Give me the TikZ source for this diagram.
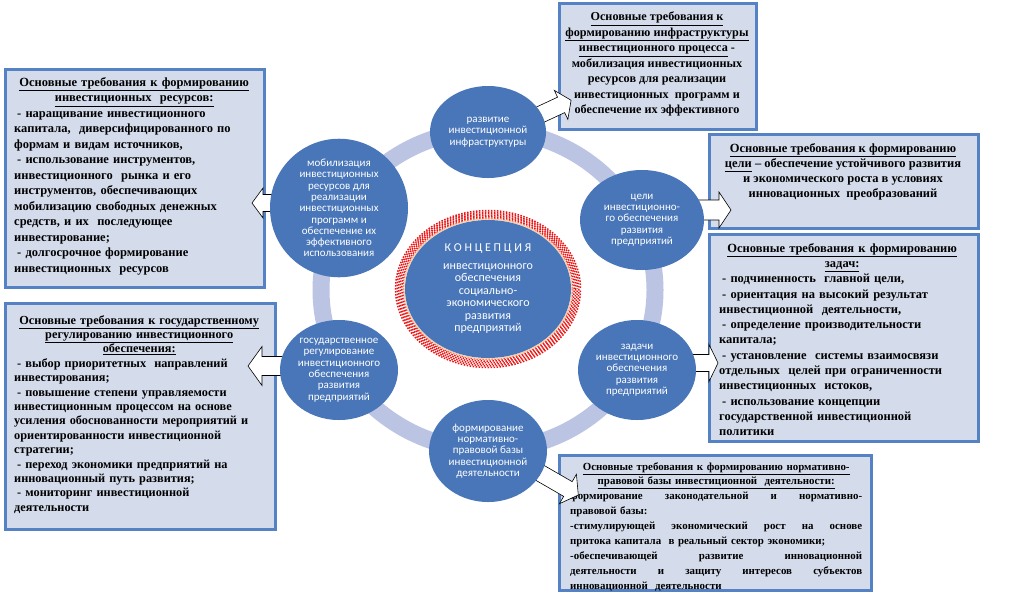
\documentclass[tikz,border=0pt]{standalone}
\usepackage{fontspec}
\setmainfont{Liberation Serif}
\newfontfamily\calib{Carlito}
\usetikzlibrary{shapes.geometric}
\definecolor{boxfill}{RGB}{212,220,236}
\definecolor{boxline}{RGB}{84,130,196}
\definecolor{circfill}{RGB}{72,118,184}
\definecolor{ringcol}{RGB}{188,196,228}
\definecolor{peach}{RGB}{250,205,165}
\definecolor{dotred}{RGB}{235,20,20}
\tikzset{
 reqbox/.style={draw=boxline, line width=2.5pt, fill=boxfill, anchor=north west, inner sep=0pt},
 circ/.style={ellipse, fill=circfill, inner sep=0pt, text=white, font=\calib\fontsize{11}{11.3}\selectfont, align=center},
 blockarrow/.style={draw=black, fill=white, line width=0.6pt, line join=miter},
 boxtxt/.style={inner sep=0pt, font=\bfseries\fontsize{12.5}{15.5}\selectfont},
 reddots/.style={dotred, line width=1.5pt, dash pattern=on 1.5pt off 1.5pt},
}
\newcommand\blockarr[8]{%
 \coordinate (#1) at (#2,#3);
 \draw[blockarrow, shift={(#1)}, rotate=#4] (0,{#6/2}) -- ({#5-#8},{#6/2}) -- ({#5-#8},{#7/2}) -- (#5,0) -- ({#5-#8},{-#7/2}) -- ({#5-#8},{-#6/2}) -- (0,{-#6/2}) -- cycle;}
\newcommand\jline[1]{{\spaceskip=0pt\xspaceskip=0pt\makebox[292pt][s]{#1}}}
\begin{document}
\begin{tikzpicture}[x=1pt,y=-1pt]
\useasboundingbox (0,0) rectangle (1024,595);
% boxes
\node[reqbox, minimum width=259pt, minimum height=218pt] (b1) at (4,68) {};
\node[reqbox, minimum width=197pt, minimum height=126pt] (b2) at (558,2) {};
\node[reqbox, minimum width=269pt, minimum height=94pt] (b3) at (708,133) {};
\node[reqbox, minimum width=269pt, minimum height=207pt] (b4) at (708,233) {};
\node[reqbox, minimum width=270pt, minimum height=226pt] (b5) at (4,302) {};
\node[reqbox, minimum width=312pt, minimum height=135pt] (b6) at (558,454) {};
% box texts
\node[boxtxt, anchor=north west, text width=240pt, align=left] (t1) at (14,77) {%
{\centering\underline{Основные требования к формированию}\\
\underline{инвестиционных\ \ ресурсов:}\par}
\hspace*{3pt}- наращивание инвестиционного\\
капитала,\ \ диверсифицированного по\\
формам и видам источников,\\
\hspace*{3pt}- использование инструментов,\\
инвестиционного\ \ рынка и его\\
инструментов, обеспечивающих\\
мобилизацию свободных денежных\\
средств, и их\ \ последующее\\
инвестирование;\\
\hspace*{3pt}- долгосрочное формирование\\
инвестиционных\ \ ресурсов};
\node[boxtxt, anchor=north, align=center, font=\bfseries\fontsize{12.2}{15.5}\selectfont] (t2) at (657,12) {%
\underline{Основные требования к}\\
\underline{формированию инфраструктуры}\\
\underline{инвестиционного процесса} -\\
мобилизация инвестиционных\\
ресурсов для реализации\\
инвестиционных\ \ программ и\\
обеспечение их эффективного};
\node[boxtxt, anchor=north, align=center, font=\bfseries\fontsize{12.5}{15}\selectfont] (t3) at (843,143) {%
\underline{Основные требования к формированию}\\
\underline{цели} – обеспечение устойчивого развития\\
и экономического роста в условиях\\
инновационных\ \ преобразований};
\node[boxtxt, anchor=north west, text width=246pt, align=left, font=\bfseries\fontsize{12.5}{15.3}\selectfont] (t4) at (719,243) {%
{\centering\underline{Основные требования к формированию}\\
\underline{задач:}\par}
\hspace*{3pt}- подчиненность\ \ главной цели,\\
\hspace*{3pt}- ориентация на высокий результат\\
инвестиционной\ \ деятельности,\\
\hspace*{3pt}- определение производительности\\
капитала;\\
\hspace*{3pt}- установление\ \ системы взаимосвязи\\
отдельных\ \ целей при ограниченности\\
инвестиционных\ \ истоков,\\
\hspace*{3pt}- использование концепции\\
государственной инвестиционной\\
политики};
\node[boxtxt, anchor=north west, text width=250pt, align=left, font=\bfseries\fontsize{12.3}{14.4}\selectfont] (t5) at (14,315) {%
{\centering\underline{Основные требования к государственному}\\
\underline{регулированию инвестиционного}\\
\underline{обеспечения:}\par}
\hspace*{3pt}- выбор приоритетных\ \ направлений\\
инвестирования;\\
\hspace*{3pt}- повышение степени управляемости\\
инвестиционным процессом на основе\\
усиления обоснованности мероприятий и\\
ориентированности инвестиционной\\
стратегии;\\
\hspace*{3pt}- переход экономики предприятий на\\
инновационный путь развития;\\
\hspace*{3pt}- мониторинг инвестиционной\\
деятельности};
\node[boxtxt, anchor=north west, text width=292pt, align=left, font=\bfseries\fontsize{10.9}{14.9}\selectfont] (t6) at (570,462) {%
{\centering\underline{Основные требования к формированию нормативно-}\\
\underline{правовой базы инвестиционной\ \ деятельности:}\par}
\jline{формирование законодательной и нормативно-}\\
правовой базы:\\
\jline{-стимулирующей экономический рост на основе}\\
притока капитала\ \ в реальный сектор экономики;\\
\jline{-обеспечивающей развитие инновационной}\\
\jline{деятельности и защиту интересов субъектов}\\
инновационной\ \ деятельности};
% ring
\draw[ringcol, line width=17pt] (488,290) ellipse (167 and 160);
% red dotted ring round the centre
\foreach \k in {0,1,2,3,4,5}{
  \pgfmathsetmacro\ph{mod(\k,2)*1.5}
  \draw[reddots, dash phase=\ph pt] (488,289) ellipse ({84.5+1.6*\k} and {70.5+1.6*\k});
}
\draw[peach, line width=1.2pt] (488,289) ellipse (84 and 70);
% block arrows
\blockarr{a1}{533}{118}{25}{42}{17}{32}{11}
\blockarr{a2}{282}{203}{180}{30}{17}{30}{11}
\blockarr{a3}{690}{210}{0}{41}{20}{36}{12}
\blockarr{a4}{690}{363}{0}{28}{17}{37}{9}
\blockarr{a5}{288}{366}{180}{40}{19}{39}{14}
\blockarr{a6}{535}{470}{-30}{50}{17}{34}{12}
% circles
\node[circ, minimum width=116pt, minimum height=92pt] (c1) at (488,132) {развитие\\инвестиционной\\инфраструктуры};
\node[circ, minimum width=138pt, minimum height=116pt] (c2) at (339,208) {мобилизация\\инвестиционных\\ресурсов для\\реализации\\инвестиционных\\программ и\\обеспечение их\\эффективного\\использования};
\node[circ, minimum width=124pt, minimum height=100pt] (c3) at (642,220) {цели\\инвестиционно-\\го обеспечения\\развития\\предприятий};
\node[circ, minimum width=118pt, minimum height=100pt] (c4) at (637,370) {задачи\\инвестиционного\\обеспечения\\развития\\предприятий};
\node[circ, minimum width=118pt, minimum height=102pt] (c5) at (488,451) {формирование\\нормативно-\\правовой базы\\инвестиционной\\деятельности};
\node[circ, minimum width=118pt, minimum height=100pt] (c6) at (339,370) {государственное\\регулирование\\инвестиционного\\обеспечения\\развития\\предприятий};
\node[circ, minimum width=166pt, minimum height=138pt, font=\calib\fontsize{12}{12.5}\selectfont] (c0) at (488,289) {К О Н Ц Е П Ц И Я\\[5pt]инвестиционного\\обеспечения\\социально-\\экономического\\развития\\предприятий};
\end{tikzpicture}
\end{document}
